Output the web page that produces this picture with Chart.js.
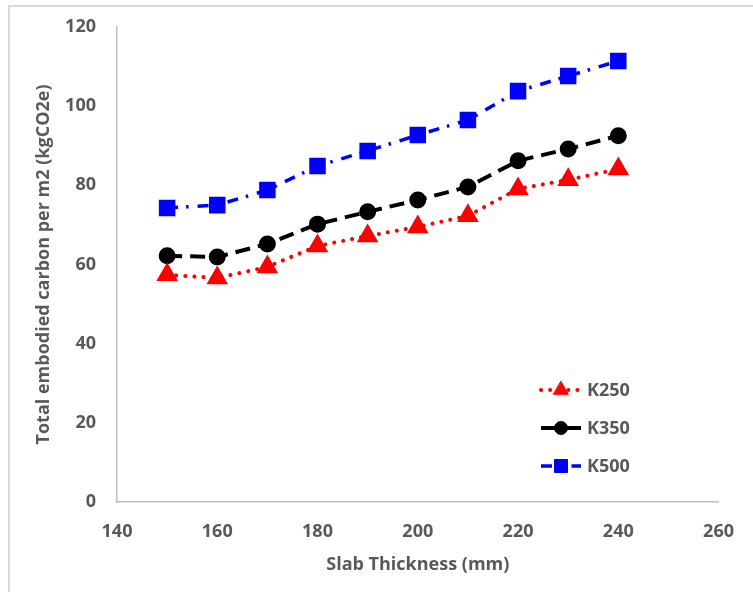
<!DOCTYPE html>
<html>
<head>
<meta charset="utf-8">
<script src="https://cdn.jsdelivr.net/npm/chart.js@4/dist/chart.umd.min.js"></script>
<style>
  html, body { margin: 0; padding: 0; background: #fff; }
  #wrap { position: relative; width: 753px; height: 592px; }
</style>
</head>
<body>
<div id="wrap"><canvas id="slabChart"></canvas></div>
<script>
/* Embodied carbon vs slab thickness - three concrete grades */

const thickness = [150, 160, 170, 180, 190, 200, 210, 220, 230, 240];
const k250 = [57.4, 56.6, 59.4, 64.7, 67.2, 69.5, 72.3, 79.1, 81.4, 84.1];
const k350 = [62.2, 61.9, 65.2, 70.2, 73.3, 76.3, 79.6, 86.2, 89.2, 92.5];
const k500 = [74.3, 75.0, 78.8, 84.9, 88.7, 92.7, 96.5, 103.8, 107.6, 111.4];
const seriesNames = ["K250", "K350", "K500"];

const GREY = "#595959";
const FONT = "'Open Sans', sans-serif";

function pts(vals) {
    return vals.map(function (v, i) { return { x: thickness[i], y: v }; });
}

// Legend drawn inside the plot area, lower right, like the Excel original
const insideLegend = {
    id: "insideLegend",
    afterDatasetsDraw: function (chart) {
        const ctx = chart.ctx;
        const rows = [390, 428, 466];
        const cx = 561;
        chart.data.datasets.forEach(function (ds, i) {
            const y = rows[i];
            ctx.save();
            ctx.strokeStyle = ds.borderColor;
            ctx.lineWidth = ds.borderWidth;
            ctx.lineCap = ds.borderCapStyle || "butt";
            ctx.setLineDash(i === 1 ? [] : ds.borderDash);
            ctx.beginPath();
            ctx.moveTo(cx - 20, y);
            ctx.lineTo(cx + 20, y);
            ctx.stroke();
            ctx.setLineDash([]);
            ctx.fillStyle = ds.pointBackgroundColor;
            ctx.strokeStyle = ds.pointBorderColor;
            ctx.lineWidth = 1;
            Chart.helpers.drawPoint(ctx, {
                pointStyle: ds.pointStyle,
                radius: ds.pointRadius,
                borderWidth: 1
            }, cx, y);
            ctx.fillStyle = GREY;
            ctx.font = "bold 18px " + FONT;
            ctx.textBaseline = "middle";
            ctx.textAlign = "left";
            ctx.fillText(seriesNames[i], 587, y + 1);
            ctx.restore();
        });
    }
};

const frame = {
    id: "frame",
    beforeDraw: function (chart) {
        const ctx = chart.ctx;
        ctx.save();
        ctx.strokeStyle = "#d9d9d9";
        ctx.lineWidth = 2;
        ctx.beginPath();
        ctx.moveTo(9, 592);
        ctx.lineTo(9, 6);
        ctx.lineTo(753, 6);
        ctx.stroke();
        ctx.restore();
    }
};

new Chart(document.getElementById("slabChart").getContext("2d"), {
    type: "line",
    data: {
        datasets: [{
            label: seriesNames[0],
            data: pts(k250),
            borderColor: "#ff0000",
            backgroundColor: "#ff0000",
            pointBackgroundColor: "#ff0000",
            pointBorderColor: "#ff0000",
            borderWidth: 4,
            borderDash: [0.1, 9],
            borderCapStyle: "round",
            pointStyle: "triangle",
            pointRadius: 8.5,
            tension: 0
        }, {
            label: seriesNames[1],
            data: pts(k350),
            borderColor: "#000000",
            backgroundColor: "#000000",
            pointBackgroundColor: "#000000",
            pointBorderColor: "#000000",
            borderWidth: 4,
            borderDash: [15, 8],
            pointStyle: "circle",
            pointRadius: 6.5,
            tension: 0
        }, {
            label: seriesNames[2],
            data: pts(k500),
            borderColor: "#0000ff",
            backgroundColor: "#0000ff",
            pointBackgroundColor: "#0000ff",
            pointBorderColor: "#0000ff",
            borderWidth: 3.5,
            borderDash: [11, 8, 2.5, 9],
            pointStyle: "rect",
            pointRadius: 9.2,
            tension: 0
        }]
    },
    options: {
        responsive: true,
        maintainAspectRatio: false,
        animation: false,
        layout: { padding: { left: 0, top: 27, right: 18, bottom: 0 } },
        plugins: { legend: { display: false }, tooltip: { enabled: false } },
        scales: {
            x: {
                type: "linear",
                min: 140, max: 260,
                afterFit: function (s) { s.height = 90; },
                grid: { display: false, drawTicks: false },
                border: { display: true, color: "#bfbfbf", width: 1.5 },
                ticks: { stepSize: 20, padding: 19, color: GREY, font: { family: FONT, size: 18, weight: "bold" } },
                title: {
                    display: true, text: "Slab Thickness (mm)", color: GREY,
                    font: { family: FONT, size: 18, weight: "bold" },
                    padding: { top: 0, bottom: 16 }
                }
            },
            y: {
                min: 0, max: 120,
                afterFit: function (s) { s.width = 117; s.paddingTop = 0; s.paddingBottom = 0; },
                grid: { display: false, drawTicks: false },
                border: { display: true, color: "#bfbfbf", width: 1.5 },
                ticks: { stepSize: 20, padding: 21, color: GREY, font: { family: FONT, size: 18, weight: "bold" } },
                title: {
                    display: true, text: "Total embodied carbon per m2 (kgCO2e)", color: GREY,
                    font: { family: FONT, size: 18, weight: "bold" },
                    padding: { top: 33, bottom: 0 }
                }
            }
        }
    },
    plugins: [frame, insideLegend]
});
</script>
</body>
</html>
